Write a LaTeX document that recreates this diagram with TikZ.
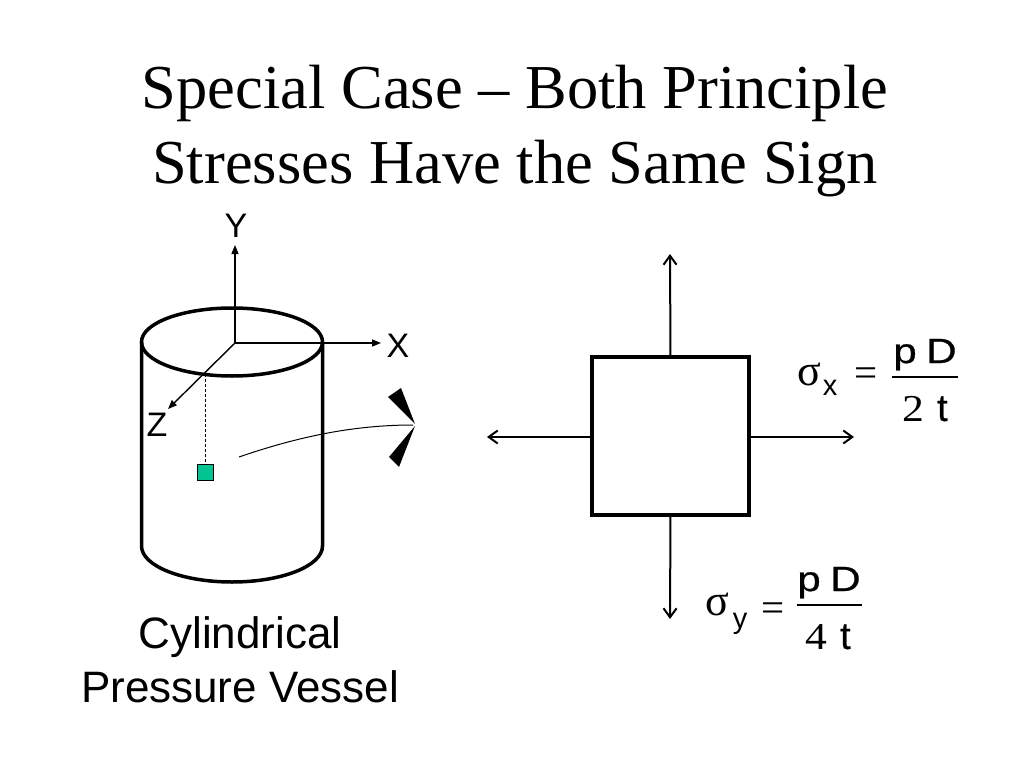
\documentclass[tikz,border=0pt]{standalone}
\usepackage{fontspec}
\setmainfont{Liberation Serif}
\newfontfamily\arial{Liberation Sans}
\newfontfamily\arialeq[FakeBold=0.6]{Liberation Sans}
\usetikzlibrary{arrows.meta}
\definecolor{elemgreen}{RGB}{0,196,145}
\begin{document}
\begin{tikzpicture}[x=1bp,y=-1bp,
  every node/.style={inner sep=0pt,outer sep=0pt},
  titletext/.style={font=\fontsize{62.5bp}{70bp}\selectfont,anchor=base},
  axislabel/.style={font=\arial\fontsize{34bp}{36bp}\selectfont},
  caption/.style={font=\arial\fontsize{44bp}{50bp}\selectfont,anchor=base},
  thick outline/.style={line width=3.5bp},
  axis/.style={line width=1.4bp,-{Triangle[length=9bp,width=7bp]}},
  stress/.style={line width=2bp,-{Straight Barb[length=9bp,width=13bp]}},
  sig/.style={font=\fontsize{44bp}{45bp}\selectfont,anchor=base},
  subs/.style={font=\arial\fontsize{29bp}{32bp}\selectfont,anchor=base},
  eqs/.style={font=\fontsize{41bp}{45bp}\selectfont},
  num/.style={font=\arialeq\fontsize{35bp}{38bp}\selectfont,anchor=base},
  fracrule/.style={line width=1.6bp}
]
\useasboundingbox[fill=white] (0,0) rectangle (1024,768);

% title
\node[titletext] (title1) at (515,108) {Special Case \textendash{} Both Principle};
\node[titletext] (title2) at (515,183) {Stresses Have the Same Sign};

% cylinder
\draw[thick outline] (232,342) ellipse [x radius=90.5, y radius=34];
\draw[thick outline] (141.5,342) -- (141.5,546)
  arc[start angle=180, end angle=0, x radius=90.5, y radius=36] -- (322.5,342);

% axes
\coordinate (O) at (235,343);
\coordinate (Yend) at (235,245);
\coordinate (Xend) at (381,343);
\coordinate (Zend) at (168,409);
\draw[axis] (O) -- (Yend);
\draw[axis] (O) -- (Xend);
\draw[axis] (O) -- (Zend);
\node[axislabel] (ylab) at (236,226) {Y};
\node[axislabel] (xlab) at (398,346) {X};
\node[axislabel] (zlab) at (157,425) {Z};

% element on surface
\node[draw=black, line width=0.8bp, fill=elemgreen, minimum width=16bp, minimum height=16bp] (elem) at (205,472) {};
\coordinate (dashtop) at (205,374);
\draw[line width=1bp, dash pattern=on 3bp off 2bp] (dashtop) -- (elem.north);

% edge-on view marker
\coordinate (tip) at (413,425);
\draw[line width=1bp] (239,457) .. controls (300,436) and (355,425) .. (tip);
\fill (388,397) -- (401,388) -- (415,424) -- cycle;
\fill (389,457) -- (399,467) -- (415,426) -- cycle;

% stress element
\node[draw=black, thick outline, minimum width=157bp, minimum height=158bp] (sq) at (670.5,436) {};
\coordinate (up) at (670,254);
\coordinate (down) at (670,619);
\coordinate (left) at (487,437);
\coordinate (right) at (854,437);
\draw[stress] (sq.north) -- (up);
\draw[stress] (sq.south) -- (down);
\draw[stress] (sq.west |- left) -- (left);
\draw[stress] (sq.east |- right) -- (right);

% sigma_x formula
\node[sig] (sx) at (809,385) {σ};
\node[subs] (sxs) at (830,395) {x};
\node[eqs] (eqx) at (866,377) {=};
\coordinate (rx1) at (892,377);
\coordinate (rx2) at (958,377);
\draw[fracrule] (rx1) -- (rx2);
\node[num] (numx) at (925,363) {\scalebox{1.2}[1]{p\hspace{8bp}D}};
\node[anchor=base] (denx) at (925,421) {\fontsize{38bp}{45bp}\selectfont\scalebox{1.15}[1]{2}\hspace{13bp}{\arialeq\fontsize{38bp}{40bp}\selectfont t}};

% sigma_y formula
\node[sig] (sy) at (717,615) {σ};
\node[subs] (sys) at (740,628) {y};
\node[eqs] (eqy) at (773,612) {=};
\coordinate (ry1) at (797,605);
\coordinate (ry2) at (862,605);
\draw[fracrule] (ry1) -- (ry2);
\node[num] (numy) at (829,591) {\scalebox{1.2}[1]{p\hspace{8bp}D}};
\node[anchor=base] (deny) at (828,649) {\fontsize{38bp}{45bp}\selectfont\scalebox{1.15}[1]{4}\hspace{13bp}{\arialeq\fontsize{38bp}{40bp}\selectfont t}};

% caption
\node[caption] (cap1) at (240,648) {Cylindrical};
\node[caption] (cap2) at (240,702) {Pressure Vessel};
\end{tikzpicture}
\end{document}
